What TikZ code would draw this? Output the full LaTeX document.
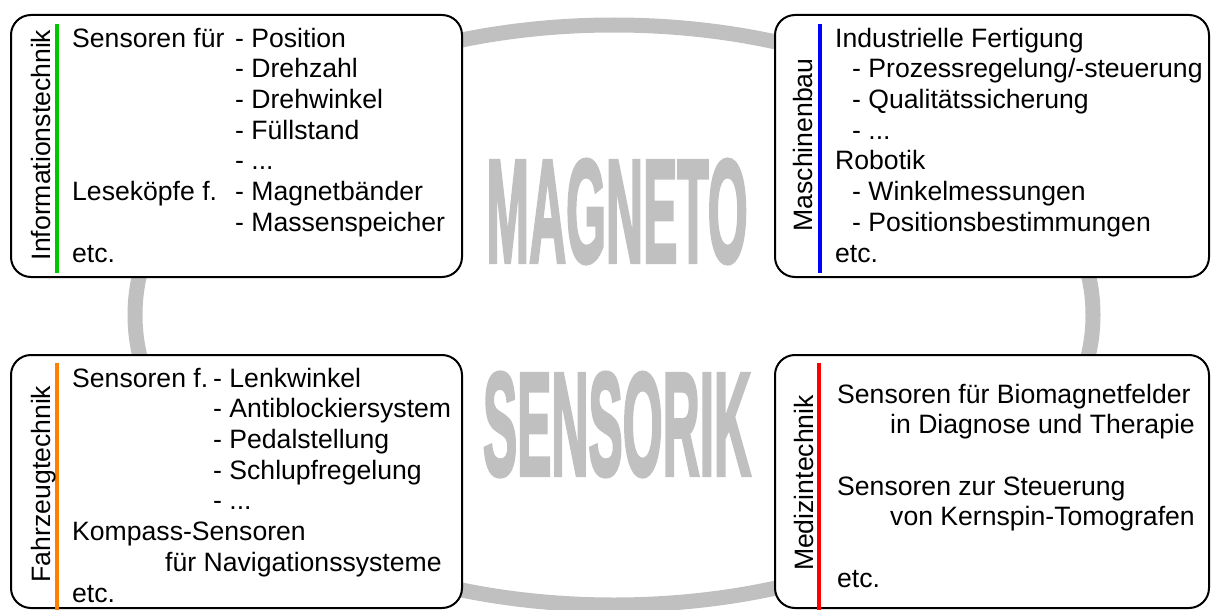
\documentclass[tikz,border=0pt]{standalone}
\usepackage{fontspec}
\setmainfont{Liberation Sans}
\newfontfamily\bigfont[FakeBold=3]{Liberation Sans Bold}
\usepackage{array}
\definecolor{ringgray}{HTML}{C0C0C0}
\definecolor{lgreen}{RGB}{0,200,0}
\definecolor{lblue}{RGB}{0,0,255}
\definecolor{lorange}{RGB}{255,128,0}
\definecolor{lred}{RGB}{255,0,0}
\tikzset{
  area/.style={draw=black, line width=2pt, fill=white, rounded corners=20pt},
  body/.style={anchor=north west, inner sep=0pt, font=\fontsize{26.6}{30.7}\selectfont},
  side/.style={anchor=base, rotate=90, inner sep=0pt, font=\fontsize{26.6}{30.7}\selectfont},
  bar/.style={line width=3.5pt},
  big/.style={anchor=base, inner sep=0pt, text=ringgray, font=\fontsize{146.6}{150}\bigfont}
}
\begin{document}
\begin{tikzpicture}[x=1pt,y=-1pt]
\useasboundingbox (0,0) rectangle (1211,610);
% ring
\draw[ringgray, line width=15pt] (614,315) ellipse [x radius=479, y radius=290];
% boxes
\draw[area] (11,15) rectangle (462,277);
\draw[area] (775,15) rectangle (1209,277);
\draw[area] (11,355) rectangle (462,608);
\draw[area] (775,355) rectangle (1209,608);
% colour bars
\draw[bar, lgreen] (57,24) -- (57,273);
\draw[bar, lblue] (820,24) -- (820,273);
\draw[bar, lorange] (57,363) -- (57,610);
\draw[bar, lred] (819,363) -- (819,610);
% side labels
\node[side] (lInfo) at (50,145) {Informationstechnik};
\node[side] (lMasch) at (812,145) {Maschinenbau};
\node[side] (lFahr) at (50,484) {Fahrzeugtechnik};
\node[side] (lMed) at (813,483) {Medizintechnik};
% centre words
\node[big] (magneto) at (617,262) {\scalebox{0.35}[1]{MAGNETO}};
\node[big] (sensorik) at (617,475) {\scalebox{0.35}[1]{SENSORIK}};
% texts
\node[body] (tInfo) at (72,25.5) {\begin{tabular}{@{}p{163pt}@{}l@{}}
Sensoren für & - Position\\
 & - Drehzahl\\
 & - Drehwinkel\\
 & - Füllstand\\
 & - ...\\
Leseköpfe f. & - Magnetbänder\\
 & - Massenspeicher\\
etc. & \\
\end{tabular}};
\node[body] (tMasch) at (835,25.5) {\begin{tabular}{@{}l@{}}
Industrielle Fertigung\\
\hspace*{17pt}- Prozessregelung/-steuerung\\
\hspace*{17pt}- Qualitätssicherung\\
\hspace*{17pt}- ...\\
Robotik\\
\hspace*{17pt}- Winkelmessungen\\
\hspace*{17pt}- Positionsbestimmungen\\
etc.\\
\end{tabular}};
\node[body] (tFahr) at (72,365.5) {\begin{tabular}{@{}p{141pt}@{}l@{}}
Sensoren f. & - Lenkwinkel\\
 & - Antiblockiersystem\\
 & - Pedalstellung\\
 & - Schlupfregelung\\
 & - ...\\
\multicolumn{2}{@{}l@{}}{Kompass-Sensoren}\\
\multicolumn{2}{@{}l@{}}{\hspace*{93pt}für Navigationssysteme}\\
etc. & \\
\end{tabular}};
\node[body] (tMed) at (837,381.5) {\begin{tabular}{@{}l@{}}
Sensoren für Biomagnetfelder\\
\hspace*{53pt}in Diagnose und Therapie\\
\\
Sensoren zur Steuerung\\
\hspace*{53pt}von Kernspin-Tomografen\\
\\
etc.\\
\end{tabular}};
\end{tikzpicture}
\end{document}
